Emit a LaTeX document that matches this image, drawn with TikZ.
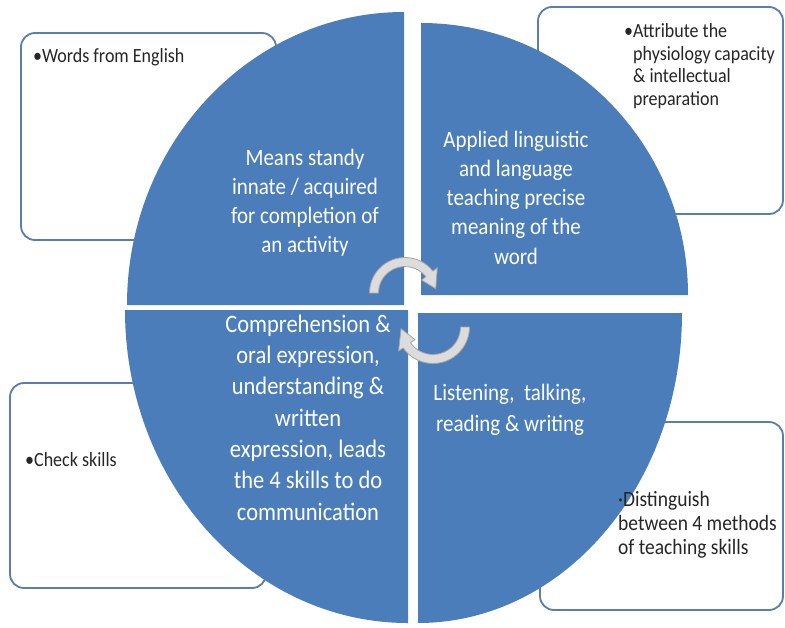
\documentclass[tikz,border=0pt]{standalone}
\usepackage{fontspec}
\setmainfont{Carlito}
\usepackage{graphicx}
\usetikzlibrary{calc}
\definecolor{quadblue}{HTML}{4A7DBA}
\definecolor{boxline}{HTML}{5B7CAE}
\definecolor{arrowfill}{HTML}{DCDCDC}
\definecolor{arrowline}{HTML}{A4A4A4}
\definecolor{notefg}{HTML}{262626}
% multi-line text block, slightly stretched vertically
\newcommand{\tallrows}[4]{\scalebox{1}[1.12]{\fontsize{#1}{#2}\selectfont\begin{tabular}{@{}#3@{}}#4\end{tabular}}}

\begin{document}
\begin{tikzpicture}[x=1pt,y=-1pt,
  notebox/.style={draw=boxline, line width=1.8pt, fill=white, rounded corners=14pt},
  quadrant/.style={fill=quadblue},
  cyclearrow/.style={fill=arrowfill, draw=arrowline, line width=0.8pt, line join=round},
  quadtext/.style={text=white, inner sep=0pt},
  notetext/.style={text=notefg, inner sep=0pt, anchor=west}]
\useasboundingbox (0,0) rectangle (785,627);

% note boxes behind the circle
\draw[notebox] (21,33) rectangle (276,240);
\draw[notebox] (538,7) rectangle (783,214);
\draw[notebox] (10,383) rectangle (266,588);
\draw[notebox] (540,422) rectangle (783,610);

% four quadrants of the cycle matrix
\fill[quadrant] (404,305) -- (127,305) arc[start angle=180,end angle=270,x radius=277,y radius=293] -- cycle;
\fill[quadrant] (421,295) -- (421,23) arc[start angle=270,end angle=360,x radius=267,y radius=272] -- cycle;
\fill[quadrant] (418,313) -- (682,313) arc[start angle=0,end angle=90,x radius=264,y radius=310] -- cycle;
\fill[quadrant] (408,310) -- (408,623) arc[start angle=90,end angle=180,x radius=283,y radius=313] -- cycle;

% circular arrows in the middle
\coordinate (c1) at (405,293);
\coordinate (c2) at (433,327);
\draw[cyclearrow] ($(c1)+(180:35.5)$) arc[start angle=180,end angle=322,radius=35.5]
  -- ($(c1)+(322:41)$) -- ($(c1)+(352:31)$) -- ($(c1)+(322:21)$)
  -- ($(c1)+(322:26.5)$) arc[start angle=322,end angle=180,radius=26.5] -- cycle;
\draw[cyclearrow] ($(c2)+(0:36.5)$) arc[start angle=0,end angle=145,radius=36.5]
  -- ($(c2)+(145:42)$) -- ($(c2)+(177:32)$) -- ($(c2)+(145:22)$)
  -- ($(c2)+(145:27.5)$) arc[start angle=145,end angle=0,radius=27.5] -- cycle;

% quadrant texts
\node[quadtext] (tl) at (305,203) {\tallrows{21}{26}{c}{Means standy\\innate / acquired\\for completion of\\an activity}};
\node[quadtext] (tr) at (516,200) {\tallrows{21}{26}{c}{Applied linguistic\\and language\\teaching precise\\meaning of the\\word}};
\node[quadtext] (bl) at (308,420) {\tallrows{22.5}{28}{c}{Comprehension \&\\oral expression,\\understanding \&\\written\\expression, leads\\the 4 skills to do\\communication}};
\node[quadtext] (br) at (510,410) {\tallrows{21}{27}{c}{Listening,\ \ talking,\\reading \& writing}};

% note texts
\node[notetext] (n1) at (33,58) {\tallrows{18}{20}{l}{•Words from English}};
\node[notetext] (n2) at (633,67) {\tallrows{18}{20}{l}{\llap{•}Attribute the\\physiology capacity\\\& intellectual\\preparation}};
\node[notetext] (n3) at (25,462) {\tallrows{18}{20}{l}{•Check skills}};
\node[notetext] (n4) at (618,526) {\tallrows{19.5}{21.5}{l}{·Distinguish\\between 4 methods\\of teaching skills}};
\end{tikzpicture}
\end{document}
